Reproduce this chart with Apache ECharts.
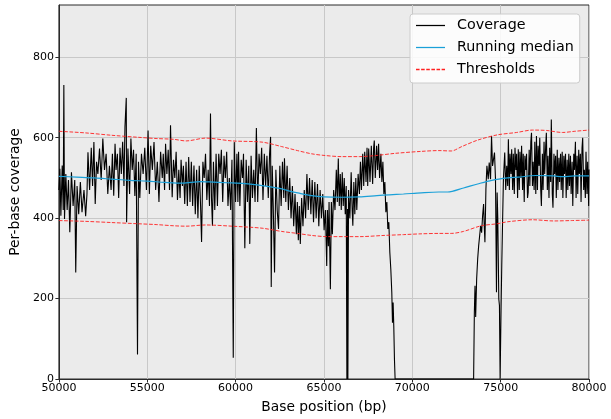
<!DOCTYPE html>
<html>
<head>
<meta charset="utf-8">
<script src="https://cdn.jsdelivr.net/npm/echarts@6/dist/echarts.min.js"></script>
<style>
html,body{margin:0;padding:0;background:#fff;}
#chart{width:611px;height:419px;}
</style>
</head>
<body>
<div id="chart"></div>
<script>
// ---- Data ----
const xTicks = [50000, 55000, 60000, 65000, 70000, 75000, 80000];
const yTicks = [0, 200, 400, 600, 800];

// Per-base coverage: [base position, coverage]
const coverage = [
[50000,470],[50056,523],[50112,406],[50187,531],[50243,420],[50280,731],[50318,398],[50392,510],[50467,420],[50542,495],[50617,365],[50710,514],[50804,430],
[50897,495],[50953,265],[51028,480],[51121,410],[51215,490],[51308,415],[51420,470],[51514,405],[51589,460],
[51645,564],[51738,470],[51832,575],[51906,480],[51981,589],[52056,435],[52131,540],[52206,510],[52299,573],[52393,495],[52486,598],[52580,520],[52673,560],[52767,460],[52860,530],[52954,470],
[53028,560],[53103,456],[53178,585],[53234,520],[53309,560],[53383,450],[53458,575],[53533,510],[53608,590],[53683,480],[53739,627],[53813,699],[53832,390],[53907,573],[54000,460],[54075,598],[54150,520],[54224,570],[54299,455],[54374,560],[54449,61],[54505,540],[54580,450],[54673,560],[54767,510],[54860,575],[54954,470],[55047,618],
[55120,460],[55196,580],[55289,520],[55383,589],[55476,470],[55570,540],[55663,440],[55757,565],[55850,500],[55906,560],[55981,470],[56037,585],[56112,510],[56186,570],[56261,470],[56317,631],[56411,452],[56485,545],[56560,500],[56635,565],[56710,445],[56785,520],[56859,450],[56915,545],[56990,480],
[57046,530],[57121,435],[57196,540],[57270,430],[57345,552],[57420,440],[57495,540],[57569,430],[57644,531],[57719,410],[57794,520],[57868,400],[57943,530],[58018,430],
[58074,341],[58149,540],[58224,500],[58298,560],[58373,445],[58448,520],[58523,430],[58579,660],[58635,450],[58691,381],[58747,540],[58822,420],[58896,560],[58971,430],[59046,560],[59121,510],[59195,570],[59270,440],[59345,555],[59420,500],[59495,565],[59569,430],[59644,500],[59719,420],[59794,545],[59868,53],[59925,589],[59999,440],[60074,560],
[60130,440],[60167,565],[60242,430],[60317,545],[60391,500],[60447,560],[60522,325],[60597,545],[60672,440],[60746,530],[60803,336],[60877,555],[60952,450],[61027,520],[61102,440],[61176,624],[61251,440],[61326,560],[61401,510],[61475,575],[61550,445],[61625,560],[61700,480],[61774,555],[61849,450],[61924,560],[61980,602],[62017,229],
[62073,530],[62130,430],[62204,265],[62279,520],[62354,420],[62429,373],[62503,530],[62578,430],[62653,540],[62728,450],[62765,549],[62840,440],[62915,530],[62989,420],
[63064,500],[63139,400],[63214,480],[63288,380],[63363,460],[63438,360],[63494,440],[63550,345],[63606,430],[63662,336],[63737,450],[63812,380],[63886,470],[63961,400],
[64036,510],[64111,420],[64185,500],[64260,410],[64335,495],[64410,390],[64484,490],[64559,400],[64634,485],[64709,380],[64783,470],[64858,400],[64933,460],[65008,370],[65082,420],[65157,281],
[65195,420],[65251,330],[65289,440],[65364,223],[65420,440],[65476,360],[65550,470],
[65625,420],[65700,520],[65756,440],[65812,548],[65868,430],[65924,510],[65980,420],[66036,514],[66092,430],[66149,500],[66205,410],[66261,480],[66298,0],[66336,423],[66354,0],[66392,470],
[66466,400],[66541,514],[66597,420],[66635,381],[66691,490],[66747,410],[66803,500],[66859,420],[66934,510],
[67008,460],[67064,540],[67121,470],[67195,560],[67251,480],[67307,565],[67382,490],[67438,575],[67476,480],[67532,573],[67607,490],[67681,580],[67756,485],[67812,575],[67849,593],[67905,500],[67980,580],[68036,520],[68092,585],[68148,500],[68223,560],[68279,490],
[68335,540],[68391,460],[68447,490],[68504,415],[68560,440],[68616,373],[68672,390],[68728,315],[68784,273],[68840,215],[68878,140],[68915,190],[68952,132],[68990,49],[69027,0],
[73470,0],[73512,166],[73549,232],[73586,154],[73642,249],[73699,298],[73755,331],[73811,356],[73867,381],[73923,364],[73979,406],[74035,435],[74072,381],[74110,340],[74166,472],[74222,530],[74297,497],[74353,538],[74428,497],[74484,604],[74540,530],[74596,546],[74652,563],[74708,497],[74764,216],[74801,464],[74839,398],[74895,199],[74932,183],[74970,0],[75026,183],[75063,282],
[75119,414],[75157,497],[75231,563],[75287,470],[75343,530],[75399,480],[75437,596],[75493,470],[75530,560],[75586,510],[75624,571],[75680,470],[75717,560],[75773,460],[75811,575],[75867,520],[75904,560],[75960,450],[75998,571],[76054,470],[76091,565],[76147,500],[76185,580],[76241,470],[76278,560],[76334,440],[76372,555],[76428,520],[76465,560],[76521,450],[76559,464],[76615,570],[76652,480],[76708,590],[76746,612],[76802,480],[76839,540],[76895,470],[76933,590],[76989,460],[77026,604],[77082,470],[77119,580],[77175,530],[77213,600],[77269,470],[77306,430],[77362,560],[77400,470],[77456,590],[77493,510],[77549,580],[77587,612],[77643,470],[77680,555],[77736,450],[77774,575],[77830,490],[77867,645],[77923,460],[77961,426],[78017,560],[78054,510],[78110,555],[78148,450],[78204,570],[78241,470],[78297,550],[78335,490],[78391,560],[78428,470],[78484,565],[78521,450],[78578,555],[78615,510],[78671,560],[78708,450],[78764,545],[78802,470],[78858,560],[78895,480],[78951,555],[78989,460],[79045,540],[79082,430],[79138,560],[79176,520],[79232,590],[79269,450],[79325,555],[79363,460],[79419,570],[79456,510],[79512,560],[79550,440],[79606,575],[79643,600],[79699,470],[79737,520],[79793,450],[79830,565],[79886,460],[79924,540],[79980,430],[80000,521]
];

// Running median
const runningMedian = [
[50000,504],[51000,502],[52000,500],[53000,497],[54000,494],[55000,492],[56000,489],[57000,487],[58000,491],[58500,490],[59500,488],[60500,486],[61500,481],[62500,474],[63000,468],[63600,462],[64300,456],[65000,453],[66000,452],[67000,453],[68000,456],[68700,458],[69500,460],[70500,463],[71500,465],[72000,465],[72900,475],[73700,485],[74500,494],[75400,500],[76000,502],[77000,506],[78000,505],[78500,503],[79200,505],[80000,505]
];

// Upper and lower thresholds
const upperThreshold = [
[50000,616],[51500,612],[53000,606],[54500,601],[55500,598],[56500,596],[57200,592],[58300,599],[59800,592],[61500,589],[62600,578],[63500,568],[64300,560],[65000,556],[66000,553],[67000,553],[68000,556],[69000,561],[70500,566],[71500,568],[72200,567],[72800,578],[73700,594],[74800,607],[75900,613],[76800,619],[77600,618],[78500,613],[79200,616],[80000,619]
];
const lowerThreshold = [
[50000,394],[51500,392],[53000,389],[54500,386],[55500,384],[56500,381],[57200,380],[58300,383],[59800,380],[61500,375],[62600,367],[63500,362],[64300,357],[65200,354],[67000,354],[68400,357],[69500,359],[70500,361],[71500,362],[72200,362],[72900,367],[73900,381],[74800,386],[75400,391],[76800,396],[78000,393],[79000,394],[80000,395]
];

// ---- Chart ----
const FONT = 'DejaVu Sans';
const LINE_ICON = 'path://M0,0H30V1.3H0Z';
const DASH_ICON = 'path://M0,0H3.7V1.3H0Z M5.3,0H9V1.3H5.3Z M10.6,0H14.3V1.3H10.6Z M15.9,0H19.6V1.3H15.9Z M21.2,0H24.9V1.3H21.2Z M26.5,0H30V1.3H26.5Z';
const chart = echarts.init(document.getElementById('chart'), null, {renderer: 'canvas'});
chart.setOption({
  animation: false,
  backgroundColor: '#ffffff',
  textStyle: {fontFamily: FONT},
  grid: {
    left: 54, right: 22, top: 5, bottom: 39,
    show: true, backgroundColor: '#ebebeb', borderColor: '#2a2a2a', borderWidth: 1
  },
  legend: {
    orient: 'vertical',
    left: 410, top: 14,
    padding: [3, 6, 5, 6],
    itemWidth: 29, itemHeight: 14, itemGap: 5,
    backgroundColor: 'rgba(255,255,255,0.85)',
    borderColor: '#cccccc', borderWidth: 1, borderRadius: 3,
    itemStyle: {borderWidth: 0},
    textStyle: {fontFamily: FONT, fontSize: 14.3, color: '#000', lineHeight: 17, padding: [0, 0, 0, 7]},
    data: [
      {name: 'Coverage', icon: LINE_ICON},
      {name: 'Running median', icon: LINE_ICON},
      {name: 'Thresholds', icon: DASH_ICON}
    ]
  },
  xAxis: {
    type: 'value', min: xTicks[0], max: xTicks[xTicks.length - 1], interval: 5000,
    name: 'Base position (bp)', nameLocation: 'middle', nameGap: 21,
    nameTextStyle: {fontFamily: FONT, fontSize: 13.8, color: '#000'},
    axisLine: {show: true, lineStyle: {color: '#2a2a2a', width: 1}},
    axisTick: {show: true, length: 3.5, lineStyle: {color: '#2a2a2a'}, customValues: xTicks},
    axisLabel: {fontFamily: FONT, fontSize: 11, color: '#000', margin: 4,
      customValues: xTicks, formatter: v => String(v)},
    splitLine: {show: true, lineStyle: {color: '#c8c8c8', width: 1}}
  },
  yAxis: {
    type: 'value', min: 0, max: 930, interval: 200,
    name: 'Per-base coverage', nameLocation: 'middle', nameGap: 32,
    nameTextStyle: {fontFamily: FONT, fontSize: 13.8, color: '#000'},
    axisLine: {show: true, lineStyle: {color: '#2a2a2a', width: 1}},
    axisTick: {show: true, length: 3.5, lineStyle: {color: '#2a2a2a'}, customValues: yTicks},
    axisLabel: {fontFamily: FONT, fontSize: 11, color: '#000', margin: 5,
      customValues: yTicks, formatter: v => String(v)},
    splitLine: {show: true, lineStyle: {color: '#c8c8c8', width: 1}}
  },
  series: [
    {
      name: 'Coverage', type: 'line', data: coverage, symbol: 'none',
      lineStyle: {color: '#000000', width: 1.1}, itemStyle: {color: '#000000'}
    },
    {
      name: 'Running median', type: 'line', data: runningMedian, symbol: 'none', smooth: 0.3,
      lineStyle: {color: '#1aa0d8', width: 1.2}, itemStyle: {color: '#1aa0d8'}
    },
    {
      name: 'Thresholds', type: 'line', data: upperThreshold, symbol: 'none', smooth: 0.3,
      lineStyle: {color: '#ff2020', width: 1, type: [3.7, 1.6], opacity: 0.9}, itemStyle: {color: '#ff2020'}
    },
    {
      name: 'Thresholds', type: 'line', data: lowerThreshold, symbol: 'none', smooth: 0.3,
      lineStyle: {color: '#ff2020', width: 1, type: [3.7, 1.6], opacity: 0.9}, itemStyle: {color: '#ff2020'}
    }
  ]
});
</script>
</body>
</html>
